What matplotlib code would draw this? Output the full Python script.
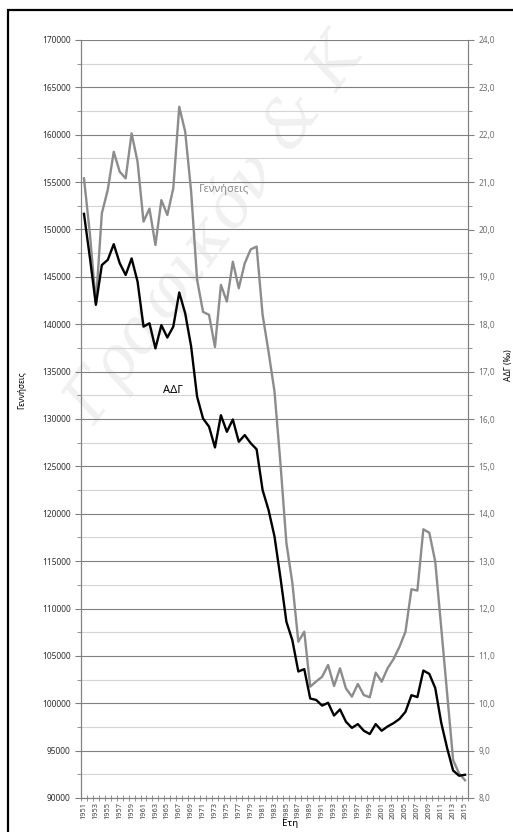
import numpy as np
import matplotlib
matplotlib.use('Agg')
import matplotlib.pyplot as plt
from matplotlib.ticker import MultipleLocator, FuncFormatter
from matplotlib.patches import Rectangle

plt.rcParams['font.family'] = ['Noto Sans', 'DejaVu Sans']

years = list(range(1951, 2016))

# births (left axis)
births = [155400, 149500, 142200, 151700, 154200, 158200, 156100, 155400, 160150, 157150,
          150830, 152200, 148370, 153100, 151530, 154350, 162960, 160320, 154000, 144700,
          141300, 141000, 137600, 144150, 142400, 146600, 143800, 146430, 147900, 148200,
          141000, 137100, 132900, 125300, 116900, 112700, 106500, 107550, 101750, 102300,
          102800, 104040, 101820, 103690, 101570, 100700, 102030, 100870, 100630, 103230,
          102280, 103700, 104670, 105970, 107550, 112030, 111890, 118360, 118000, 114940,
          108000, 101000, 94000, 92600, 91870]

# crude birth rate (right axis, per 1000)
adg = [20.33, 19.40, 18.41, 19.25, 19.36, 19.69, 19.29, 19.04, 19.39, 18.90,
       17.95, 18.02, 17.49, 17.98, 17.72, 17.95, 18.67, 18.23, 17.53, 16.47,
       16.01, 15.84, 15.40, 16.08, 15.73, 15.99, 15.52, 15.66, 15.49, 15.36,
       14.50, 14.08, 13.52, 12.65, 11.72, 11.33, 10.67, 10.72, 10.10, 10.07,
       9.95, 10.01, 9.74, 9.87, 9.61, 9.48, 9.56, 9.42, 9.35, 9.56,
       9.42, 9.51, 9.58, 9.67, 9.82, 10.17, 10.13, 10.69, 10.62, 10.32,
       9.59, 9.05, 8.58, 8.47, 8.49]

x = np.arange(len(years))

fig = plt.figure(figsize=(5.13, 8.32), dpi=100)
fig.patch.set_facecolor('white')

# outer frame of the chart object (cropped on the right/bottom)
fig.patches.append(Rectangle((8 / 513, -0.05), 1.2, 1 - 10 / 832 + 0.05,
                             transform=fig.transFigure, fill=False,
                             edgecolor='black', lw=1.6))

ax = fig.add_axes([81 / 513, 1 - 798 / 832, (468 - 81) / 513, (798 - 40) / 832])
ax.patch.set_alpha(0)
ax2 = ax.twinx()

# faint watermark behind the data lines
fig.text(215 / 513, 1 - 230 / 832, 'Γραφικόν & Κ', fontsize=46, color='#f0f0f0', rotation=54,
         ha='center', va='center', family='DejaVu Serif', style='italic', zorder=-1)

ax.set_xlim(-0.5, len(years) - 0.5)
ax.set_ylim(90000, 170000)
ax2.set_ylim(8, 24)

ax.yaxis.set_major_locator(MultipleLocator(5000))
ax.yaxis.set_minor_locator(MultipleLocator(2500))
ax2.yaxis.set_major_locator(MultipleLocator(1))
ax2.yaxis.set_minor_locator(MultipleLocator(0.5))
ax2.yaxis.set_major_formatter(FuncFormatter(lambda v, p: f'{v:.1f}'.replace('.', ',')))

ax.grid(which='major', axis='y', color='#808080', lw=0.8, zorder=1)
ax.grid(which='minor', axis='y', color='#d4d4d4', lw=0.8, zorder=1)

ax.plot(x, births, color='#8c8c8c', lw=1.7, zorder=3)
ax2.plot(x, adg, color='black', lw=1.7, zorder=3)

ax.set_xticks(x[::2])
ax.set_xticklabels([str(y) for y in years[::2]], rotation=90, fontsize=5.3, color='#404040')
ax.set_xticks(np.arange(-0.5, len(years)), minor=True)
ax.tick_params(axis='x', which='major', length=0, pad=3)
ax.tick_params(axis='x', which='minor', length=5, direction='inout', color='#808080')

ax.tick_params(axis='y', which='major', labelsize=6, length=4, color='#808080', labelcolor='#303030')
ax.tick_params(axis='y', which='minor', length=3, color='#808080')
ax2.tick_params(axis='y', which='major', labelsize=6, length=4, color='#808080', labelcolor='#707070')
ax2.tick_params(axis='y', which='minor', length=3, color='#808080')

for a in (ax, ax2):
    for s in a.spines.values():
        s.set_color('#808080')
    a.spines['top'].set_visible(False)

ax.text(23.5, 154170, 'Γεννήσεις', color='#8c8c8c', fontsize=8, ha='center', va='center')
ax.text(14.9, 133000, 'ΑΔΓ', color='black', fontsize=8, ha='center', va='center')

fig.text(22 / 513, 1 - 390 / 832, 'Γεννήσεις', rotation=90, fontsize=6, ha='center', va='center')
fig.text(508 / 513, 1 - 365 / 832, 'ΑΔΓ (‰)', rotation=90, fontsize=6, ha='center', va='center')
fig.text(290 / 513, 1 - 823 / 832, 'Ετη', fontsize=7, ha='center', va='center')

fig.savefig('out.png', dpi=100, facecolor='white')
